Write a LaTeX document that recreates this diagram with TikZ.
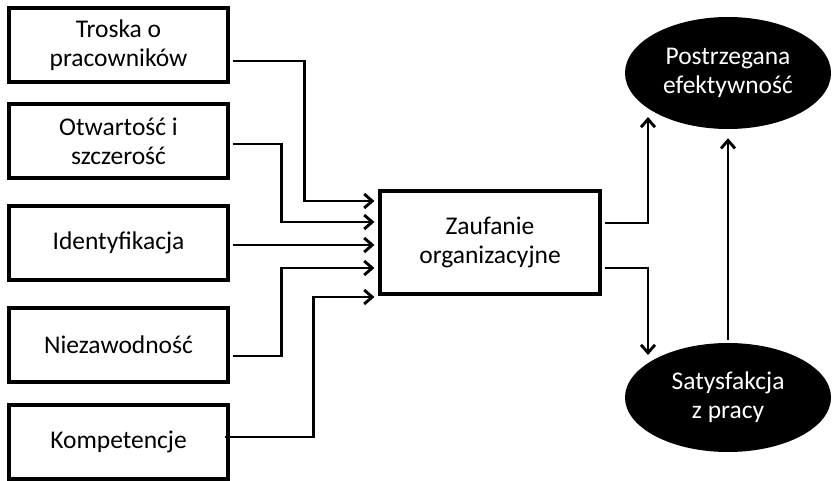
\documentclass[tikz,border=0pt]{standalone}
\usepackage{fontspec}
\setmainfont{Carlito}
\usetikzlibrary{arrows.meta,calc,shapes.geometric}
\begin{document}
\begin{tikzpicture}[x=1pt,y=-1pt,
  lbox/.style={draw,line width=3.2pt,minimum width=219pt,minimum height=74pt,inner sep=0pt,align=center,
    font=\fontsize{25.5}{29}\selectfont},
  cbox/.style={lbox,minimum width=220pt,minimum height=103pt},
  oval/.style={ellipse,fill=black,text=white,inner sep=0pt,align=center,font=\fontsize{25.5}{29}\selectfont},
  arr/.style={line width=2.9pt,-{Straight Barb[length=8pt,width=14pt,line width=2.9pt]}}]
\useasboundingbox (0,0) rectangle (834,481);
\node[lbox] (b1) at (118.5,45) {Troska o\\pracowników};
\node[lbox] (b2) at (118.5,141) {Otwartość i\\szczerość};
\node[lbox] (b3) at (118.5,243) {Identyfikacja};
\node[lbox] (b4) at (118.5,345) {Niezawodność};
\node[lbox] (b5) at (118.5,442) {Kompetencje};
\node[cbox] (z) at (490,242.5) {Zaufanie\\organizacyjne};
\node[oval,minimum width=206pt,minimum height=112pt] (e1) at (728,73) {Postrzegana\\efektywność};
\node[oval,minimum width=206pt,minimum height=109pt] (e2) at (728,397.5) {Satysfakcja\\z pracy};
\draw[arr] ([shift={(3,16)}]b1.east) -- ++(72,0) |- ([shift={(-4,-41.5)}]z.west);
\draw[arr] ([shift={(3,3)}]b2.east) -- ++(49,0) |- ([shift={(-4,-20.5)}]z.west);
\draw[arr] ([shift={(3,2)}]b3.east) -- ([shift={(-4,2.5)}]z.west);
\draw[arr] ([shift={(3,11)}]b4.east) -- ++(49,0) |- ([shift={(-4,25.5)}]z.west);
\draw[arr] ([shift={(-5,-5)}]b5.east) -- ++(89,0) |- ([shift={(-4,54.5)}]z.west);
\draw[arr] ([shift={(3,-19.5)}]z.east) -| ($(e1.center)+(-80,44)$);
\draw[arr] ([shift={(3,25.5)}]z.east) -| ($(e2.center)+(-80,-42.5)$);
\draw[arr] ([shift={(0,-3)}]e2.north) -- ([shift={(0,9)}]e1.south);
\end{tikzpicture}
\end{document}
